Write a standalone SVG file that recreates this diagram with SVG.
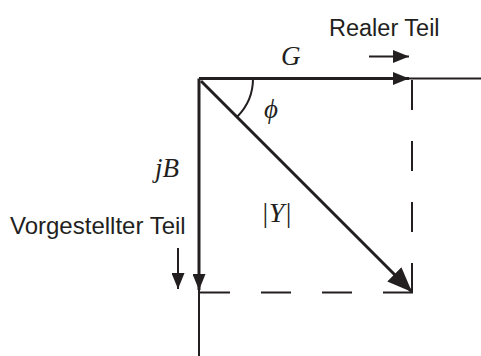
<svg xmlns="http://www.w3.org/2000/svg" width="481" height="356" viewBox="0 0 481 356">
<defs>
<style>
.ax{stroke:#231f20;stroke-width:3;fill:none}
.thin{stroke:#231f20;stroke-width:2;fill:none}
.dash{stroke:#231f20;stroke-width:2;fill:none;stroke-dasharray:30 31}
.lbl{font-family:"Liberation Sans",Arial,sans-serif;font-size:23.5px;fill:#231f20}
.math{font-family:"Liberation Serif","Times New Roman",serif;font-style:italic;font-size:27px;fill:#231f20}
</style>
<marker id="ah" markerUnits="userSpaceOnUse" markerWidth="17" markerHeight="13" refX="16" refY="6.5" orient="auto">
<path d="M0,0 L16,6.5 L0,13 Z" fill="#231f20"/>
</marker>
<marker id="ahb" markerUnits="userSpaceOnUse" markerWidth="26" markerHeight="20" refX="25" refY="10" orient="auto">
<path d="M0,0 L25,10 L0,20 Z" fill="#231f20"/>
</marker>
</defs>
<g id="connectors">
<line class="thin" x1="409" y1="78.5" x2="481" y2="78.5"/>
<line class="dash" x1="412" y1="80" x2="412" y2="293"/>
<line class="dash" x1="200" y1="292.5" x2="413" y2="292.5"/>
<line class="thin" x1="199" y1="290" x2="199" y2="356"/>
<line id="G" class="ax" x1="199" y1="78.5" x2="409" y2="78.5" marker-end="url(#ah)"/>
<line id="jB" class="ax" x1="199" y1="78.5" x2="199" y2="290" marker-end="url(#ah)"/>
<line id="Y" class="ax" stroke-width="4.5" x1="201" y1="81" x2="412" y2="292" marker-end="url(#ahb)"/>
<line class="thin" stroke-width="1.5" x1="369" y1="56.5" x2="409" y2="56.5" marker-end="url(#ah)"/>
<line class="thin" stroke-width="1.5" x1="178" y1="248" x2="178" y2="289" marker-end="url(#ah)"/>
<path class="thin" stroke-width="1.3" d="M253,78.5 A54,54 0 0 1 237.2,116.7"/>
</g>
<g id="labels">
<text class="lbl" x="329" y="35.5">Realer Teil</text>
<text class="lbl" x="10" y="234" style="font-size:24px">Vorgestellter Teil</text>
<text class="math" x="281" y="65">G</text>
<text class="math" x="155" y="177">jB</text>
<text class="math" x="261" y="222" style="font-size:28px">|Y|</text>
<text class="math" x="264" y="118">ϕ</text>
</g>
</svg>
